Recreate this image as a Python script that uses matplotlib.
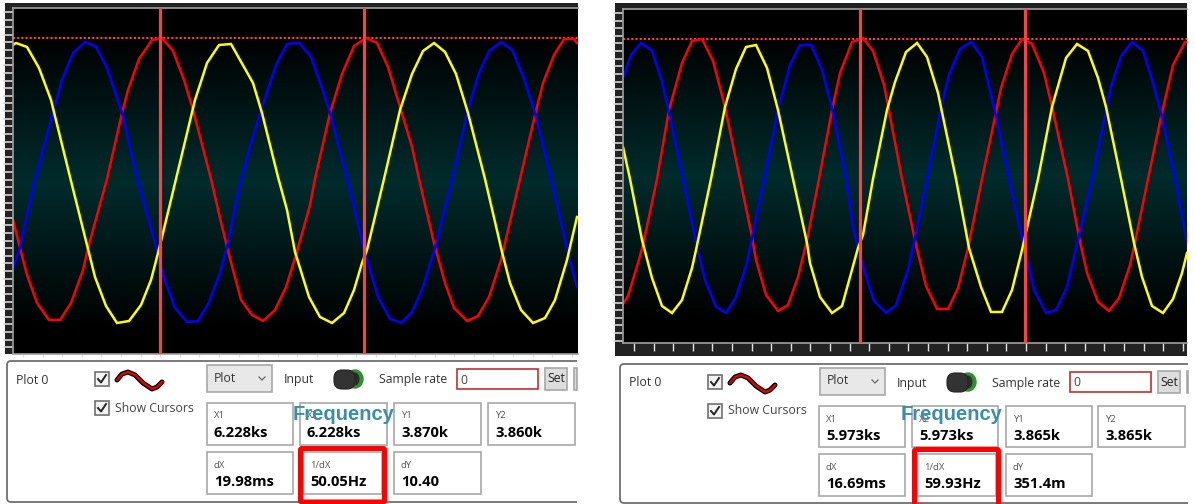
import matplotlib.pyplot as plt
import numpy as np
from matplotlib.colors import LinearSegmentedColormap
from matplotlib.patches import Ellipse, FancyBboxPatch, Rectangle

plt.rcParams["font.family"] = ["Open Sans", "DejaVu Sans"]

# traces, in screen pixels
left_yellow_x = [13, 16, 27, 39, 51, 70, 95, 106, 117, 129, 141, 151, 157, 163, 176, 195, 207, 219, 231, 253, 262, 278, 287, 295, 309, 320, 332, 344, 354, 362, 367, 384, 400, 412, 423, 434, 445, 456, 468, 485, 502, 510, 521, 533, 545, 555, 567, 577]
left_yellow_y = [45, 43, 47, 68, 100, 177, 277, 306, 323, 321, 305, 280, 257, 233, 179, 100, 63, 45, 44, 83, 113, 177, 210, 252, 297, 317, 323, 313, 290, 263, 250, 179, 110, 74, 51, 43, 52, 74, 113, 179, 252, 283, 310, 323, 318, 300, 260, 217]
left_blue_x = [13, 20, 35, 53, 62, 73, 85, 96, 107, 122, 137, 157, 163, 175, 187, 198, 209, 220, 227, 241, 252, 262, 276, 287, 299, 311, 322, 330, 347, 365, 378, 390, 401, 412, 423, 435, 452, 468, 479, 489, 501, 512, 523, 535, 551, 568, 577]
left_blue_y = [268, 247, 179, 113, 80, 53, 42, 47, 68, 113, 179, 250, 275, 308, 322, 321, 302, 273, 247, 179, 140, 107, 65, 44, 43, 57, 88, 113, 179, 253, 297, 319, 323, 312, 287, 248, 179, 110, 73, 51, 42, 50, 76, 113, 179, 253, 287]
left_red_x = [13, 20, 27, 37, 49, 60, 71, 83, 88, 107, 122, 128, 139, 152, 162, 173, 184, 193, 211, 220, 227, 241, 252, 263, 275, 286, 296, 310, 315, 330, 342, 354, 366, 377, 388, 400, 412, 419, 434, 445, 454, 467, 478, 489, 501, 520, 535, 543, 554, 564, 574, 577]
left_red_y = [220, 248, 275, 303, 320, 320, 303, 270, 248, 179, 113, 90, 59, 40, 38, 51, 80, 110, 179, 218, 247, 300, 315, 321, 310, 287, 255, 205, 179, 113, 74, 46, 38, 43, 67, 107, 147, 179, 243, 283, 308, 321, 316, 297, 260, 179, 115, 83, 55, 39, 39, 43]

right_yellow_x = [623, 630, 642, 652, 662, 672, 682, 692, 696, 711, 725, 736, 746, 756, 767, 778, 793, 807, 810, 820, 832, 842, 850, 858, 863, 873, 887, 895, 906, 917, 927, 938, 956, 969, 981, 991, 1002, 1012, 1022, 1038, 1052, 1066, 1077, 1088, 1098, 1106, 1121, 1134, 1142, 1152, 1163, 1173, 1182, 1187]
right_yellow_y = [147, 179, 240, 278, 306, 313, 300, 268, 250, 179, 107, 69, 47, 45, 68, 110, 179, 243, 263, 297, 313, 306, 277, 248, 235, 179, 110, 82, 52, 43, 57, 93, 179, 248, 287, 312, 312, 290, 250, 179, 107, 58, 44, 51, 78, 107, 179, 243, 277, 306, 313, 299, 273, 253]
right_blue_x = [623, 631, 641, 652, 662, 669, 683, 697, 705, 716, 726, 736, 747, 752, 764, 778, 790, 800, 811, 822, 832, 846, 853, 858, 864, 874, 886, 896, 908, 915, 927, 941, 949, 960, 971, 982, 995, 1009, 1023, 1034, 1046, 1056, 1067, 1078, 1092, 1106, 1111, 1121, 1132, 1143, 1153, 1161, 1175, 1187]
right_blue_y = [78, 55, 43, 51, 82, 113, 179, 247, 280, 307, 313, 297, 263, 238, 179, 110, 65, 45, 45, 70, 108, 179, 227, 248, 270, 301, 313, 305, 270, 238, 179, 108, 75, 49, 42, 57, 112, 179, 243, 290, 313, 310, 287, 240, 179, 112, 87, 56, 42, 51, 83, 113, 179, 242]
right_red_x = [623, 628, 638, 643, 657, 669, 682, 692, 702, 713, 725, 740, 752, 756, 766, 778, 788, 798, 807, 819, 832, 840, 852, 863, 873, 884, 902, 916, 926, 937, 948, 958, 968, 982, 995, 1001, 1012, 1022, 1032, 1044, 1052, 1068, 1079, 1087, 1098, 1109, 1119, 1130, 1134, 1148, 1161, 1173, 1185, 1187]
right_red_y = [304, 296, 263, 245, 179, 110, 63, 41, 39, 61, 107, 179, 237, 260, 295, 311, 305, 277, 240, 179, 110, 73, 42, 38, 51, 85, 179, 245, 286, 309, 309, 288, 248, 179, 117, 88, 54, 39, 44, 73, 107, 179, 237, 273, 302, 311, 298, 265, 247, 179, 117, 65, 42, 42]

left_cursors = [160, 364]
right_cursors = [860, 1025]
left_level = 38
right_level = 39

box_labels = ["X1", "X2", "Y1", "Y2", "dX", "1/dX", "dY"]
left_values = ["6.228ks", "6.228ks", "3.870k", "3.860k", "19.98ms", "50.05Hz", "10.40"]
right_values = ["5.973ks", "5.973ks", "3.865k", "3.865k", "16.69ms", "59.93Hz", "351.4m"]

W, H = 1195, 504
fig = plt.figure(figsize=(W / 100, H / 100), dpi=100, facecolor="white")
ui = fig.add_axes([0, 0, 1, 1], zorder=1)
ui.set_xlim(0, W)
ui.set_ylim(H, 0)
ui.axis("off")
ui.patch.set_alpha(0)

glow = LinearSegmentedColormap.from_list("glow", [(0, "#000000"), (0.08, "#000000"), (0.5, "#022b2c"), (0.93, "#000000"), (1, "#000000")])


def scope(x0, x1, y0, y1, traces, cursors, level, ytick0, xtick0, tick_len, major):
    ax = fig.add_axes([x0 / W, 1 - y1 / H, (x1 - x0) / W, (y1 - y0) / H], zorder=2)
    ax.set_xlim(x0, x1)
    ax.set_ylim(y1, y0)
    ax.imshow(np.linspace(0, 1, 256).reshape(-1, 1), cmap=glow, aspect="auto", extent=(x0, x1, y1, y0), zorder=0)
    ax.hlines(level, x0, x1, color="#ff4040", lw=1.5, linestyles=(0, (1, 1)), zorder=1)
    for xs, ys, col in traces:
        ax.plot(xs, ys, color=col, lw=1.8, solid_joinstyle="miter", zorder=2)
    for c in cursors:
        ax.axvline(c, color="#ff4040", lw=2.3, zorder=3)
    ax.set_xticks(np.arange(xtick0, x1, 19.6))
    ax.set_yticks(np.arange(ytick0, y1, 7.62))
    ax.tick_params(axis="x", length=tick_len, width=1, color="#e0e0e0", labelbottom=False)
    ax.tick_params(axis="y", length=7, width=1.2, color="#d8d8d8", labelleft=False)
    if major:
        ax.set_xticks(np.arange(xtick0, x1, 98), minor=True)
        ax.tick_params(axis="x", which="minor", length=tick_len + 3, width=1, color="#e0e0e0")
    for s in ax.spines.values():
        s.set_color("#a0a0a0")
        s.set_linewidth(1.2)
    ax.spines["right"].set_visible(False)
    return ax


def box(x0, y0, x1, y1, fc="white", ec="#a8a8a8", lw=1.2):
    ui.add_patch(Rectangle((x0, y0), x1 - x0, y1 - y0, fc=fc, ec=ec, lw=lw))


def panel(dx, right, top, bottom, values, boxes_x, rows, red_x, red_y, freq_x):
    # outline is open on the right, the screenshot cuts it off
    outline = FancyBboxPatch((dx + 7, top), right - dx + 30, bottom - top, boxstyle="round,pad=0,rounding_size=4", fc="white", ec="#707070", lw=1.3)
    ui.add_patch(outline)
    outline.set_clip_path(Rectangle((dx, top - 3), right - dx, bottom - top + 6, transform=ui.transData))
    ui.text(dx + 16, top + 19, "Plot 0", fontsize=8.8, color="#333333", va="center")
    for cy in [top + 18, top + 47]:
        box(dx + 95, cy - 7, dx + 109, cy + 7, fc="#f4f4f4", ec="#707070")
        ui.plot([dx + 98, dx + 101, dx + 106], [cy, cy + 3.5, cy - 4], color="#222222", lw=1.4)
    wave_x = np.array([117, 122, 128, 135, 143, 152, 157, 162]) + dx
    wave_y = np.array([19, 13, 11, 14, 22, 28, 26, 21]) + top
    ui.plot(wave_x, wave_y, color="black", lw=3.6, solid_capstyle="round")
    ui.plot(wave_x, wave_y, color="#e00000", lw=1.7, solid_capstyle="round")
    ui.text(dx + 115, top + 47, "Show Cursors", fontsize=8.8, color="#444444", va="center")
    box(dx + 207, top + 4, dx + 272, top + 31, fc="#e8e8e8", ec="#a8a8a8")
    ui.text(dx + 214, top + 17, "Plot", fontsize=8.8, color="#333333", va="center")
    ui.plot([dx + 259, dx + 262, dx + 265], [top + 16, top + 19, top + 16], color="#666666", lw=0.9)
    ui.text(dx + 284, top + 19, "Input", fontsize=8.8, color="#333333", va="center")
    ui.add_patch(Ellipse((dx + 355, top + 18), 16, 18, fc="#2f8f2f", ec="#2f8f2f"))
    ui.add_patch(Ellipse((dx + 355, top + 18), 9, 13, fc="#223322", ec="none", zorder=1.2))
    ui.add_patch(FancyBboxPatch((dx + 334, top + 9), 21, 19, boxstyle="round,pad=0,rounding_size=8", fc="#333333", ec="#222222", lw=0.8, zorder=1.3))
    ui.text(dx + 379, top + 19, "Sample rate", fontsize=8.8, color="#333333", va="center")
    box(dx + 457, top + 8, dx + 538, top + 28, ec="#c03030")
    ui.text(dx + 460, top + 19, "0", fontsize=8.8, color="#444444", va="center")
    box(dx + 545, top + 7, dx + 567, top + 29, fc="#dddddd")
    ui.text(dx + 556, top + 18, "Set", fontsize=8.8, color="#222222", va="center", ha="center")
    box(dx + 574, top + 7, right, top + 29, fc="#dddddd")

    for i, (lab, val) in enumerate(zip(box_labels, values)):
        bx0, bx1 = boxes_x[i]
        by0, by1 = rows[0] if i < 4 else rows[1]
        box(bx0, by0, bx1, by1)
        ui.text(bx0 + 7, by0 + 13, lab, fontsize=6.8, color="#555555", va="center")
        ui.text(bx0 + 7, by0 + 30, val, fontsize=10.6, color="black", fontweight="bold", va="center")
    ui.add_patch(FancyBboxPatch((red_x[0], red_y[0]), red_x[1] - red_x[0], red_y[1] - red_y[0], boxstyle="round,pad=0,rounding_size=1.5", fc="none", ec="#ff0000", lw=3.6, zorder=3))
    ui.text(freq_x, 415, "Frequency", family="Liberation Sans", fontsize=14.5, fontweight="bold", color="#3a8ea5", va="center", zorder=4)


# dark frame behind the two scopes
ui.add_patch(Rectangle((5, 3), 573, 351, fc="#222222", ec="none"))
ui.add_patch(Rectangle((615, 3), 572, 353, fc="#222222", ec="none"))

scope(13, 578, 8, 354, [(left_red_x, left_red_y, "#ff0000"), (left_blue_x, left_blue_y, "#0000ff"), (left_yellow_x, left_yellow_y, "#ffff00")], left_cursors, left_level, 12, 23, 2, False)
scope(623, 1187, 9, 343, [(right_red_x, right_red_y, "#ff0000"), (right_blue_x, right_blue_y, "#0000ff"), (right_yellow_x, right_yellow_y, "#ffff00")], right_cursors, right_level, 13, 634, 6, True)

panel(0, 577, 361, 502, left_values,
      [(207, 293), (300, 387), (394, 481), (488, 575), (207, 293), (303, 382), (394, 481)],
      [(403, 445), (452, 494)], (300.5, 384.5), (448.5, 502), 293)
panel(613, 1188, 364, 503, right_values,
      [(819, 905), (912, 998), (1006, 1092), (1098, 1185), (819, 905), (917, 996), (1006, 1092)],
      [(406, 447), (454, 496)], (914.5, 998.5), (449.5, 507), 901)

fig.savefig("out.png", dpi=100)
